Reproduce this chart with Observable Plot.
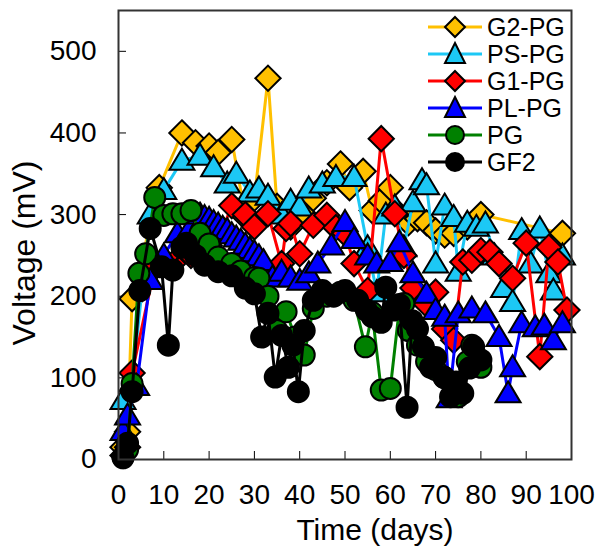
<!DOCTYPE html>
<html><head><meta charset="utf-8">
<script src="https://cdn.jsdelivr.net/npm/d3@7"></script>
<script src="https://cdn.jsdelivr.net/npm/@observablehq/plot@0.6"></script>
<style>
body{margin:0;background:#fff;font-family:"Liberation Sans",Arial,sans-serif;}
#wrap{position:relative;width:606px;height:549px;}
.lg{position:absolute;left:425px;height:28px;display:flex;align-items:center;font-size:25px;color:#000;white-space:nowrap;}
.lg svg{margin-right:2px;}
</style></head><body><div id="wrap"></div>
<script>
// ---- data ----
const seriesNames = ["G2-PG","PS-PG","G1-PG","PL-PG","PG","GF2"];
const seriesColors = ["#FFC000","#1CC8F5","#FF0000","#0000FF","#008000","#000000"];
const seriesShapes = ["diamond","triangle","diamond","triangle","circle","circle"];
const xLabel = "Time (days)";
const yLabel = "Voltage (mV)";

const g2Days = [1, 2, 3, 9, 14, 17, 20, 22, 25, 28, 30, 33, 35, 38, 41, 43, 46, 49, 51, 54, 56, 58, 60, 62, 64, 66, 68, 70, 72, 74, 77, 80, 98];
const g2Vals = [15, 34, 197, 333, 400, 388, 384, 376, 392, 297, 320, 467, 310, 285, 300, 320, 339, 362, 333, 353, 305, 317, 333, 300, 290, 295, 290, 280, 275, 277, 285, 300, 277];

const psDays = [1, 3, 7, 10, 14, 18, 21, 24, 26, 29, 31, 33, 36, 38, 40, 42, 45, 48, 52, 55, 57, 59, 61, 63, 65, 67, 68, 70, 72, 74, 75, 77, 79, 81, 83, 85, 87, 89, 91, 93, 95, 96, 98];
const psVals = [73, 95, 300, 330, 366, 372, 358, 338, 350, 327, 332, 323, 300, 317, 310, 332, 338, 346, 346, 260, 205, 300, 310, 260, 315, 342, 336, 240, 311, 297, 230, 290, 285, 289, 250, 210, 193, 281, 240, 283, 228, 207, 250];

const g1Days = [1, 2, 3, 8, 12, 16, 20, 23, 25, 28, 30, 33, 36, 37, 38, 40, 43, 46, 48, 50, 52, 55, 58, 61, 63, 65, 68, 70, 72, 74, 76, 78, 80, 82, 84, 87, 90, 93, 95, 97, 99];
const g1Vals = [5, 15, 106, 235, 240, 250, 262, 282, 311, 300, 285, 301, 240, 283, 289, 252, 287, 299, 284, 277, 240, 207, 393, 301, 250, 210, 190, 205, 160, 146, 242, 244, 256, 254, 240, 222, 265, 126, 260, 242, 183];

const plDays = [1, 2, 4, 7, 10, 13, 16, 18, 19, 20, 21, 22, 23, 24, 25, 26, 27, 28, 29, 30, 31, 32, 34, 36, 38, 40, 42, 44, 47, 50, 52, 55, 57, 60, 62, 65, 68, 70, 72, 73, 75, 78, 81, 84, 86, 87, 89, 92, 94, 96, 98];
const plVals = [35, 54, 90, 220, 250, 277, 285, 300, 297, 295, 291, 288, 284, 281, 276, 272, 268, 263, 258, 254, 249, 243, 223, 230, 223, 219, 228, 240, 262, 291, 270, 250, 240, 242, 266, 228, 203, 183, 175, 75, 179, 185, 179, 150, 81, 113, 167, 162, 164, 146, 167];

const pgDays = [1, 2, 3, 4.5, 6, 8, 10, 12, 14, 16, 18, 20, 22, 25, 27, 30, 31, 33, 35, 37, 39, 41, 43, 46, 49, 52, 54.5, 56, 58, 60, 62, 63, 64, 66, 68, 70, 72, 74, 75, 77, 78, 80];
const pgVals = [3, 12, 93, 228, 252, 321, 299, 301, 301, 305, 277, 264, 248, 240, 231, 223, 222, 200, 158, 181, 150, 128, 185, 200, 205, 195, 138, 180, 85, 87, 185, 191, 158, 140, 120, 110, 100, 90, 77, 120, 140, 113];

const gfDays = [1, 2, 3, 4.7, 7, 9.5, 11, 12, 14, 15, 17, 19, 22, 25, 28, 30, 31.6, 33, 34.6, 36, 37.5, 38.5, 39.7, 41, 43, 45, 47.5, 50, 52.8, 54.7, 56, 58, 59, 60.7, 62, 63.7, 64.8, 66, 67.3, 68.9, 70, 71.8, 73.3, 74.5, 76, 77.5, 78.4, 80];
const gfVals = [2, 20, 83, 207, 283, 236, 140, 232, 260, 265, 250, 238, 230, 225, 210, 203, 150, 179, 101, 152, 113, 140, 83, 158, 195, 207, 200, 207, 195, 183, 175, 168, 211, 183, 190, 64, 170, 160, 138, 113, 125, 101, 77, 95, 81, 112, 138, 122];

const xTicks = [0, 10, 20, 30, 40, 50, 60, 70, 80, 90, 100];
const yTicks = [0, 100, 200, 300, 400, 500];

// ---- build ----
const allDays = [g2Days, psDays, g1Days, plDays, pgDays, gfDays];
const allVals = [g2Vals, psVals, g1Vals, plVals, pgVals, gfVals];

const diamondSym = {draw(ctx, size){ const s = Math.sqrt(size/Math.PI)*1.15; ctx.moveTo(0,-s); ctx.lineTo(s,0); ctx.lineTo(0,s); ctx.lineTo(-s,0); ctx.closePath(); }};
const triSym = {draw(ctx, size){ const s = Math.sqrt(size/Math.PI); ctx.moveTo(0,-1.2*s); ctx.lineTo(1.25*s,0.9*s); ctx.lineTo(-1.25*s,0.9*s); ctx.closePath(); }};
const symFor = k => k === "diamond" ? diamondSym : k === "triangle" ? triSym : "circle";
const rFor = k => k === "diamond" ? 11 : k === "triangle" ? 10 : 10.5;

const seriesMarks = [];
seriesNames.forEach((name, i) => {
  const rows = allDays[i].map((d, j) => ({series: name, day: d, v: allVals[i][j]}));
  seriesMarks.push(Plot.line(rows, {x: "day", y: "v", stroke: seriesColors[i], strokeWidth: 3}));
  seriesMarks.push(Plot.dot(rows, {x: "day", y: "v", symbol: symFor(seriesShapes[i]), r: rFor(seriesShapes[i]), fill: seriesColors[i], stroke: "black", strokeWidth: 2, fillOpacity: 1}));
});

const plot = Plot.plot({
  width: 606, height: 549,
  marginLeft: 118, marginRight: 35, marginTop: 10, marginBottom: 90,
  style: {fontFamily: '"Liberation Sans", Arial, sans-serif', fontSize: "28px", color: "black", background: "white", overflow: "visible"},
  x: {domain: [0, 100]},
  y: {domain: [0, 550]},
  marks: [
    Plot.axisX({ticks: xTicks, tickSize: -8, tickPadding: 33, tickFormat: d => String(d), label: null, fontSize: 28}),
    Plot.axisY({ticks: yTicks, tickSize: -8, tickPadding: 30, tickFormat: d => String(d), label: null, fontSize: 28}),
    Plot.text([xLabel], {text: d => d, frameAnchor: "bottom", dy: 71, dx: 30, fontSize: 30, lineAnchor: "middle", fill: "black"}),
    Plot.text([yLabel], {text: d => d, frameAnchor: "left", dx: -94, dy: 18, rotate: -90, fontSize: 32, lineAnchor: "middle", textAnchor: "middle", fill: "black"}),
    ...seriesMarks,
    Plot.frame({stroke: "#333", strokeWidth: 2})
  ]
});
const wrap = document.getElementById("wrap");
wrap.appendChild(plot);

// legend (inside the plot area, top-right)
seriesNames.forEach((name, i) => {
  const row = document.createElement("div");
  row.className = "lg";
  row.style.top = (13 + 27 * i) + "px";
  const shape = seriesShapes[i];
  let m;
  if (shape === "diamond") m = `<path d="M30,4 L40,14 L30,24 L20,14 Z" fill="${seriesColors[i]}" stroke="black" stroke-width="2"/>`;
  else if (shape === "triangle") m = `<path d="M30,3 L40,23 L20,23 Z" fill="${seriesColors[i]}" stroke="black" stroke-width="2"/>`;
  else m = `<circle cx="30" cy="14" r="9" fill="${seriesColors[i]}" stroke="black" stroke-width="2"/>`;
  row.innerHTML = `<svg width="60" height="28"><line x1="3" x2="57" y1="14" y2="14" stroke="${seriesColors[i]}" stroke-width="3"/>${m}</svg><span>${name}</span>`;
  wrap.appendChild(row);
});
</script>
</body></html>
